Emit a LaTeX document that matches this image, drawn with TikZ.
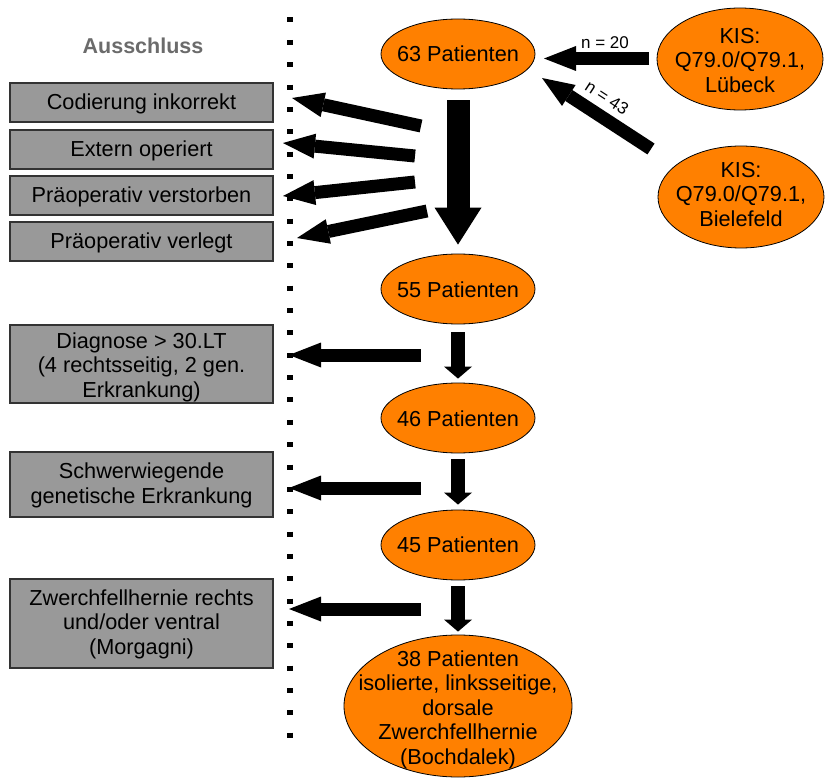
\documentclass[tikz,border=0pt]{standalone}
\usepackage{fontspec}
\setmainfont{Liberation Sans}
\usetikzlibrary{shapes.geometric,arrows.meta}
\definecolor{oran}{HTML}{FF8000}
\definecolor{boxgray}{HTML}{999999}
\definecolor{boxline}{HTML}{333333}
\definecolor{headgray}{HTML}{6B6B6B}
\begin{document}
\begin{tikzpicture}[x=1pt,y=-1pt,
  ell/.style={ellipse, draw=black, line width=0.8pt, fill=oran, inner sep=0pt},
  txt/.style={align=center, font=\fontsize{21.7}{24.5}\selectfont, inner sep=0pt},
  exbox/.style={rectangle, draw=boxline, line width=1.2pt, fill=boxgray, minimum width=263,
    inner sep=0pt, align=center, text=black!90, font=\fontsize{21.7}{24.5}\selectfont},
  nlabel/.style={font=\fontsize{17}{20}\selectfont, inner sep=0pt},
  bigarrow/.style={line width=23pt, -{Triangle[length=37pt,width=47pt,line width=0pt]}},
  smallarrow/.style={line width=14pt, -{Triangle[length=12pt,width=28pt,line width=0pt]}},
  sidearrow/.style={line width=13pt, -{Triangle[length=32pt,width=25pt,line width=0pt]}},
]
\useasboundingbox (0,0) rectangle (825,778);

% separator
\draw[line width=6pt, dash pattern=on 5pt off 17.35pt] (289.5,17.5) -- (289.5,742);

% header
\node[font=\bfseries\fontsize{21.5}{24}\selectfont, text=headgray, inner sep=0pt] (aus) at (143,46) {Ausschluss};

% ellipses
\node[ell, minimum width=154, minimum height=70] (p63) at (458,54) {};
\node[txt] (t63) at (458,54) {63 Patienten};
\node[ell, minimum width=166, minimum height=102] (kl) at (740,59) {};
\node[txt] (tkl) at (740,60.5) {KIS:\\Q79.0/Q79.1,\\Lübeck};
\node[ell, minimum width=166, minimum height=102] (kb) at (741,197) {};
\node[txt] (tkb) at (741,194.5) {KIS:\\Q79.0/Q79.1,\\Bielefeld};
\node[ell, minimum width=154, minimum height=70] (p55) at (458,289) {};
\node[txt] (t55) at (458,290) {55 Patienten};
\node[ell, minimum width=154, minimum height=70] (p46) at (458,418) {};
\node[txt] (t46) at (458,418.5) {46 Patienten};
\node[ell, minimum width=154, minimum height=70] (p45) at (458,545) {};
\node[txt] (t45) at (458,545) {45 Patienten};
\node[ell, minimum width=228, minimum height=142] (p38) at (458,706) {};
\node[txt] (t38) at (458,709.5) {38 Patienten\\isolierte, linksseitige,\\dorsale\\Zwerchfellhernie\\(Bochdalek)};

% exclusion boxes
\node[exbox, minimum height=39] (b1) at (141.5,102.5) {};
\node[txt] (tb1) at (141.5,104) {Codierung inkorrekt};
\node[exbox, minimum height=39] (b2) at (141.5,149.5) {};
\node[txt] (tb2) at (141.5,150.5) {Extern operiert};
\node[exbox, minimum height=39] (b3) at (141.5,195.5) {};
\node[txt] (tb3) at (141.5,196.5) {Präoperativ verstorben};
\node[exbox, minimum height=39] (b4) at (141.5,241.5) {};
\node[txt] (tb4) at (141.5,242.5) {Präoperativ verlegt};
\node[exbox, minimum height=78] (b5) at (141.5,364) {};
\node[txt] (tb5) at (141.5,367) {Diagnose > 30.LT\\(4 rechtsseitig, 2 gen.\\Erkrankung)};
\node[exbox, minimum height=65] (b6) at (141.5,484.5) {};
\node[txt] (tb6) at (141.5,485.5) {Schwerwiegende\\genetische Erkrankung};
\node[exbox, minimum height=89] (b7) at (141.5,623.5) {};
\node[txt] (tb7) at (141.5,624) {Zwerchfellhernie rechts\\und/oder ventral\\(Morgagni)};

% arrow end points
\coordinate (l20s) at (649,58.5);
\coordinate (l20e) at (544,58.5);
\coordinate (l43s) at (651,149);
\coordinate (l43e) at (542,78);
\coordinate (a1s) at (421,126);  \coordinate (a1e) at (292,98);
\coordinate (a2s) at (415,156);  \coordinate (a2e) at (283,143);
\coordinate (a3s) at (415,182);  \coordinate (a3e) at (283,196);
\coordinate (a4s) at (427,211);  \coordinate (a4e) at (297,238);
\coordinate (a5s) at (421,355);  \coordinate (a5e) at (289,355);
\coordinate (a6s) at (421,488);  \coordinate (a6e) at (289,488);
\coordinate (a7s) at (421,609);  \coordinate (a7e) at (289,609);

% inflow arrows
\draw[sidearrow] (l20s) -- (l20e);
\draw[sidearrow] (l43s) -- (l43e);
\node[nlabel] (n20) at (605,43) {n = 20};
\node[nlabel, rotate=-33] (n43) at (607,98) {n = 43};

% main flow
\draw[bigarrow, shorten <=11pt, shorten >=9pt] (p63) -- (p55);
\draw[smallarrow, shorten <=8pt, shorten >=4pt] (p55) -- (p46);
\draw[smallarrow, shorten <=6pt, shorten >=5pt] (p46) -- (p45);
\draw[smallarrow, shorten <=6pt, shorten >=3pt] (p45) -- (p38);

% exclusion arrows
\draw[sidearrow] (a1s) -- (a1e);
\draw[sidearrow] (a2s) -- (a2e);
\draw[sidearrow] (a3s) -- (a3e);
\draw[sidearrow] (a4s) -- (a4e);
\draw[sidearrow] (a5s) -- (a5e);
\draw[sidearrow] (a6s) -- (a6e);
\draw[sidearrow] (a7s) -- (a7e);
\end{tikzpicture}
\end{document}
